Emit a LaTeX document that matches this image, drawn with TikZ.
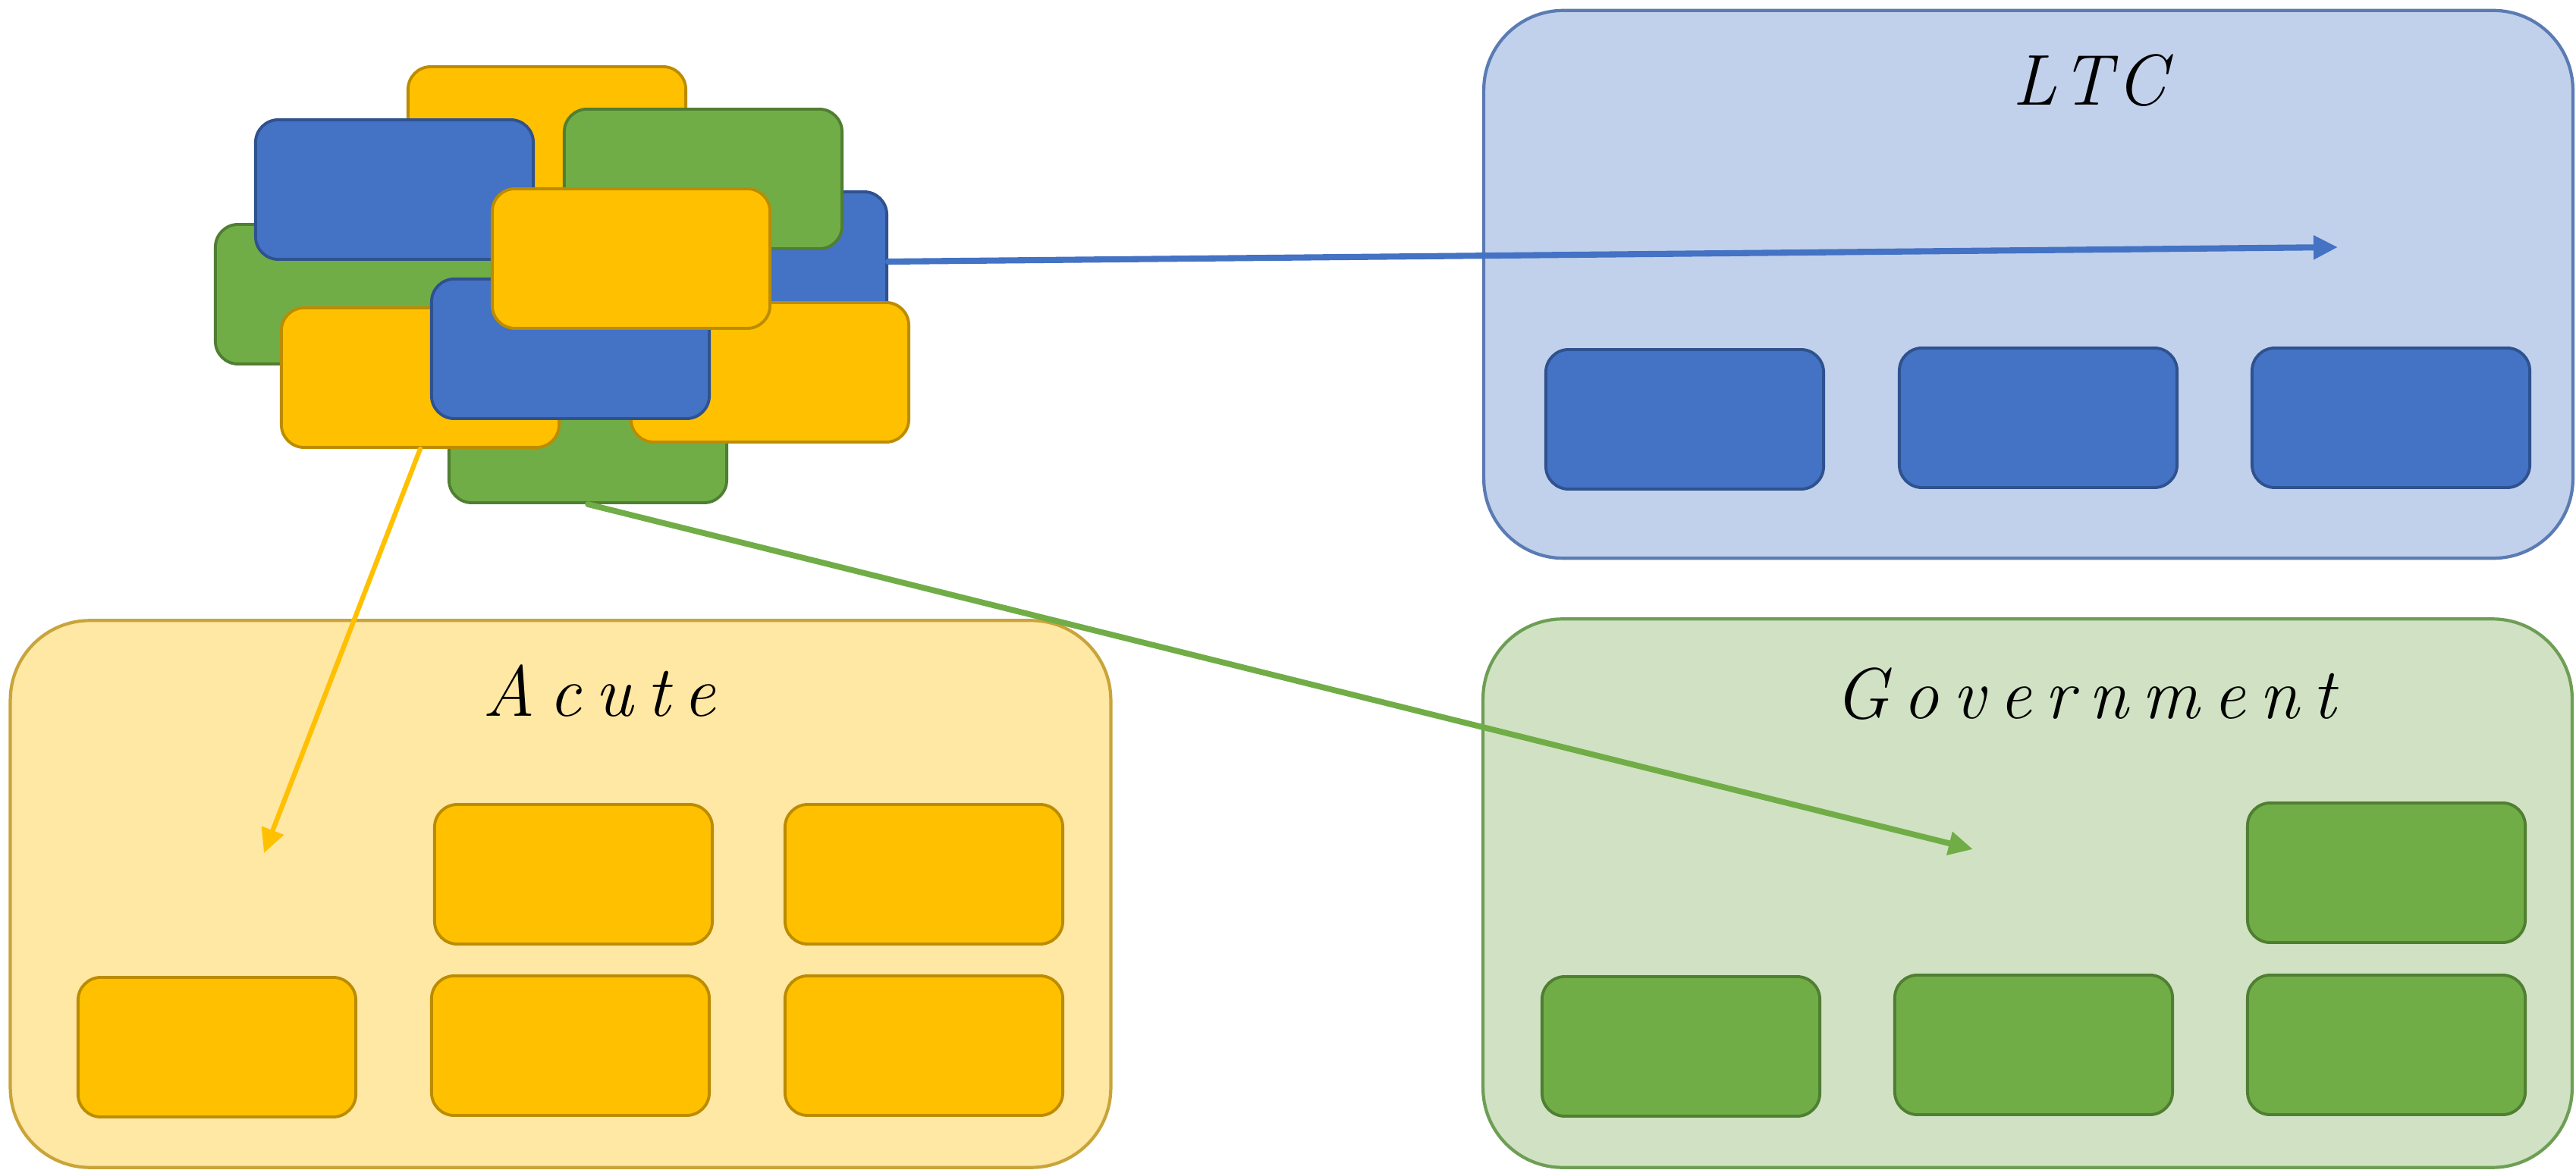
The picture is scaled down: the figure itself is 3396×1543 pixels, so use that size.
\documentclass[tikz,border=0pt]{standalone}
\usetikzlibrary{arrows.meta}

\definecolor{blueFill}{HTML}{4472C4}
\definecolor{blueLine}{HTML}{2F528F}
\definecolor{goldFill}{HTML}{FFC000}
\definecolor{goldLine}{HTML}{BC8C00}
\definecolor{greenFill}{HTML}{70AD47}
\definecolor{greenLine}{HTML}{507E32}
\definecolor{ltcBack}{HTML}{C1D1EB}
\definecolor{ltcEdge}{HTML}{5B7BB3}
\definecolor{acuteBack}{HTML}{FFE7A4}
\definecolor{acuteEdge}{HTML}{C9A43A}
\definecolor{govBack}{HTML}{D0E2C3}
\definecolor{govEdge}{HTML}{6E9E55}

\newcommand\lsp{\kern0.19em}

\begin{document}
\begin{tikzpicture}[x=0.01cm,y=-0.01cm,
  panel/.style={draw, line width=1.2pt, rounded corners=1.05cm, inner sep=0pt},
  tile/.style={draw, line width=1.1pt, rounded corners=0.3cm, inner sep=0pt,
               minimum width=3.66cm, minimum height=1.84cm},
  bluetile/.style={tile, fill=blueFill, draw=blueLine},
  goldtile/.style={tile, fill=goldFill, draw=goldLine},
  greentile/.style={tile, fill=greenFill, draw=greenLine},
  title/.style={anchor=base, inner sep=0pt, font=\fontsize{27}{32}\selectfont\itshape},
  link/.style={-{Triangle[length=0.32cm,width=0.3cm]}, line cap=round}]

\useasboundingbox (0,0) rectangle (3396,1543);

% --- three destination panels ---
\node[panel, fill=ltcBack, draw=ltcEdge, minimum width=14.35cm, minimum height=7.22cm]
  (ltc) at (2674,375) {};
\node[panel, fill=acuteBack, draw=acuteEdge, minimum width=14.5cm, minimum height=7.21cm]
  (acute) at (739,1179) {};
\node[panel, fill=govBack, draw=govEdge, minimum width=14.35cm, minimum height=7.23cm]
  (gov) at (2673,1178) {};

% panel titles
\node[title] (ltcTitle) at (2755,139) {L\kern0.06em T\kern0.06em C};
\node[title] (acuteTitle) at (790,945) {A\lsp c\lsp u\lsp t\lsp e};
\node[title] (govTitle) at (2749,947) {G\lsp o\lsp v\lsp e\lsp r\lsp n\lsp m\lsp e\lsp n\lsp t};

% tiles inside the LTC panel
\node[bluetile] (l1) at (2221,553) {};
\node[bluetile] (l2) at (2687,551) {};
\node[bluetile] (l3) at (3152,551) {};

% tiles inside the Acute panel
\node[goldtile] (a1) at (756,1153) {};
\node[goldtile] (a2) at (1218,1153) {};
\node[goldtile] (a3) at (286,1381) {};
\node[goldtile] (a4) at (752,1379) {};
\node[goldtile] (a5) at (1218,1379) {};

% tiles inside the Government panel
\node[greentile] (g1) at (3146,1151) {};
\node[greentile] (g2) at (2216,1380) {};
\node[greentile] (g3) at (2681,1378) {};
\node[greentile] (g4) at (3146,1378) {};

% --- the mixed cluster, back to front ---
\node[greentile] (cGB) at (775,571) {};
\node[goldtile]  (cYT) at (721,180) {};
\node[greentile] (cGL) at (467,388) {};
\node[bluetile]  (cBTL) at (520,250) {};
\node[bluetile]  (cBR) at (986,345) {};
\node[greentile] (cGTR) at (927,236) {};
\node[goldtile]  (cYBL) at (554,498) {};
\node[goldtile]  (cYBR) at (1015,491) {};
\node[bluetile]  (cBC) at (752,460) {};
\node[goldtile]  (cYC) at (832,341) {};

% --- arrows from the cluster into the panels ---
\coordinate (ltcTip) at (3082,326);
\coordinate (acuteTip) at (348,1125);
\coordinate (govTip) at (2601,1120);

\draw[link, blueFill, line width=2.3pt] (cBR.east) -- (ltcTip);
\draw[link, goldFill, line width=1.8pt] (cYBL.south) -- (acuteTip);
\draw[link, greenFill, line width=2.2pt] (cGB.south) -- (govTip);

\end{tikzpicture}
\end{document}
